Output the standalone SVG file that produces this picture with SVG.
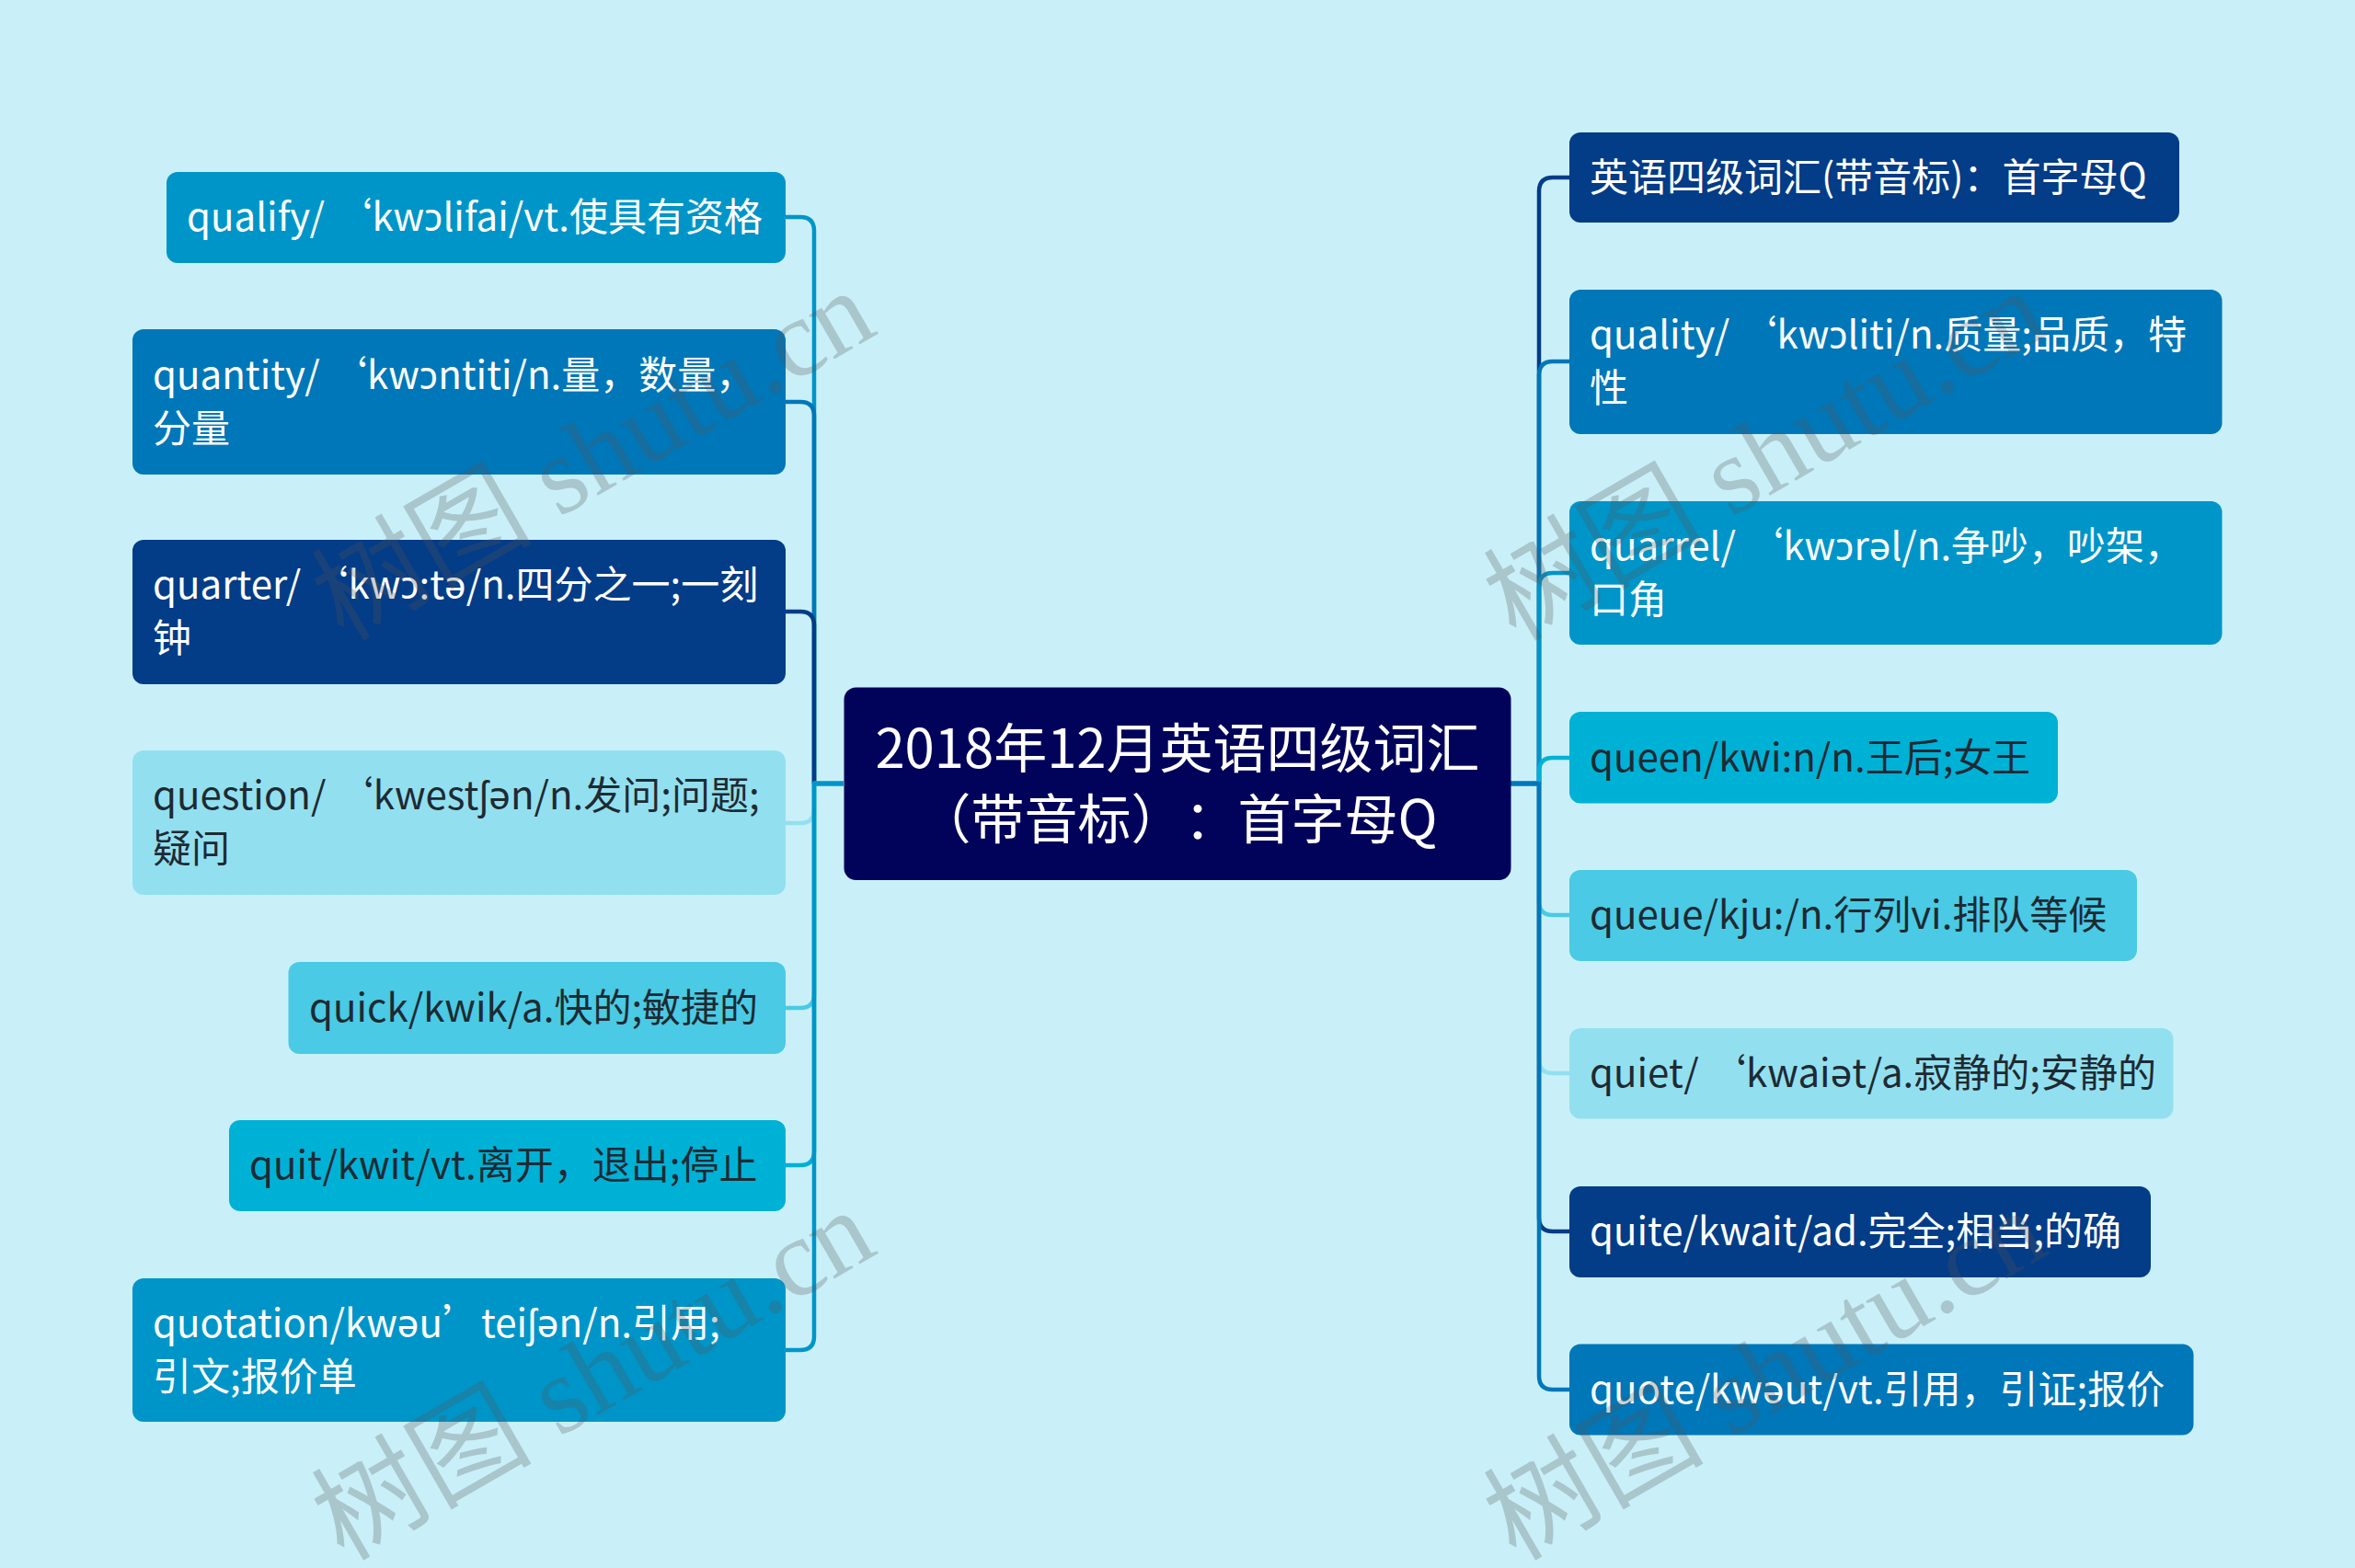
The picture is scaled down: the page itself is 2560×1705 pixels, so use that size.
<svg xmlns="http://www.w3.org/2000/svg" width="2560" height="1705" viewBox="0 0 2560 1705">
<style>
.t{font-family:"Noto Sans CJK SC","Noto Sans",sans-serif;font-size:42px;text-spacing-trim:space-all}
.w{fill:#ffffff}
.d{fill:#1e2a33}
.c{fill:none;stroke-width:4.5;stroke-linejoin:round}
.wm{font-family:"Liberation Serif","Noto Sans CJK SC",serif;font-size:120px;fill:#555555;fill-opacity:0.27}
</style>
<rect width="2560" height="1705" fill="#c9f0f8"/>
<g id="connectors">
<path class="c" stroke="#0095c8" d="M917,852 H885 V251 Q885,236 870,236 H854"/>
<path class="c" stroke="#0077b8" d="M917,852 H885 V452 Q885,437 870,437 H854"/>
<path class="c" stroke="#033c87" d="M917,852 H885 V680 Q885,665 870,665 H854"/>
<path class="c" stroke="#92e0ef" d="M917,852 H885 V880 Q885,895 870,895 H854"/>
<path class="c" stroke="#4acae4" d="M917,852 H885 V1081 Q885,1096 870,1096 H854"/>
<path class="c" stroke="#00b1d6" d="M917,852 H885 V1252 Q885,1267 870,1267 H854"/>
<path class="c" stroke="#0095c8" d="M917,852 H885 V1453 Q885,1468 870,1468 H854"/>
<path class="c" stroke="#033c87" d="M1642,852 H1673 V208 Q1673,193 1688,193 H1706"/>
<path class="c" stroke="#0077b8" d="M1642,852 H1673 V408 Q1673,393 1688,393 H1706"/>
<path class="c" stroke="#0095c8" d="M1642,852 H1673 V638 Q1673,623 1688,623 H1706"/>
<path class="c" stroke="#00b1d6" d="M1642,852 H1673 V839 Q1673,824 1688,824 H1706"/>
<path class="c" stroke="#4acae4" d="M1642,852 H1673 V980 Q1673,995 1688,995 H1706"/>
<path class="c" stroke="#92e0ef" d="M1642,852 H1673 V1152 Q1673,1167 1688,1167 H1706"/>
<path class="c" stroke="#033c87" d="M1642,852 H1673 V1324 Q1673,1339 1688,1339 H1706"/>
<path class="c" stroke="#0077b8" d="M1642,852 H1673 V1496 Q1673,1511 1688,1511 H1706"/>
</g>
<g id="center">
<rect x="917.5" y="747.5" width="725" height="209.5" rx="13" fill="#01035a"/>
<text class="t w" x="1280" y="835" text-anchor="middle" style="font-size:58px">2018年12月英语四级词汇</text>
<text class="t w" x="1280" y="912" text-anchor="middle" style="font-size:58px">（带音标）：首字母Q</text>
</g>
<g id="n-qualify">
<rect x="181" y="187" width="673" height="99" rx="12" fill="#0095c8"/>
<text class="t w" x="203" y="251">qualify/ ‘kwɔlifai/vt.使具有资格</text>
</g>
<g id="n-quantity">
<rect x="144" y="358" width="710" height="158" rx="12" fill="#0077b8"/>
<text class="t w" x="166" y="423">quantity/ ‘kwɔntiti/n.量，数量，</text>
<text class="t w" x="166" y="481">分量</text>
</g>
<g id="n-quarter">
<rect x="144" y="587" width="710" height="157" rx="12" fill="#033c87"/>
<text class="t w" x="166" y="651">quarter/ ‘kwɔ:tə/n.四分之一;一刻</text>
<text class="t w" x="166" y="709">钟</text>
</g>
<g id="n-question">
<rect x="144" y="816" width="710" height="157" rx="12" fill="#92e0ef"/>
<text class="t d" x="166" y="880">question/ ‘kwestʃən/n.发问;问题;</text>
<text class="t d" x="166" y="938">疑问</text>
</g>
<g id="n-quick">
<rect x="313.5" y="1046" width="540.5" height="100" rx="12" fill="#4acae4"/>
<text class="t d" x="336" y="1111">quick/kwik/a.快的;敏捷的</text>
</g>
<g id="n-quit">
<rect x="249" y="1218" width="605" height="99" rx="12" fill="#00b1d6"/>
<text class="t d" x="271" y="1282">quit/kwit/vt.离开，退出;停止</text>
</g>
<g id="n-quotation">
<rect x="144" y="1390" width="710" height="156" rx="12" fill="#0095c8"/>
<text class="t w" x="166" y="1454">quotation/kwəu’teiʃən/n.引用;</text>
<text class="t w" x="166" y="1512">引文;报价单</text>
</g>
<g id="n-title">
<rect x="1706" y="144" width="663" height="98" rx="12" fill="#033c87"/>
<text class="t w" x="1728" y="208">英语四级词汇(带音标)：首字母Q</text>
</g>
<g id="n-quality">
<rect x="1706" y="315" width="709.5" height="157" rx="12" fill="#0077b8"/>
<text class="t w" x="1728" y="379">quality/ ‘kwɔliti/n.质量;品质，特</text>
<text class="t w" x="1728" y="437">性</text>
</g>
<g id="n-quarrel">
<rect x="1706" y="545" width="709.5" height="156" rx="12" fill="#0095c8"/>
<text class="t w" x="1728" y="609">quarrel/ ‘kwɔrəl/n.争吵，吵架，</text>
<text class="t w" x="1728" y="667">口角</text>
</g>
<g id="n-queen">
<rect x="1706" y="774" width="531" height="99.5" rx="12" fill="#00b1d6"/>
<text class="t d" x="1728" y="839">queen/kwi:n/n.王后;女王</text>
</g>
<g id="n-queue">
<rect x="1706" y="946" width="617" height="99" rx="12" fill="#4acae4"/>
<text class="t d" x="1728" y="1010">queue/kju:/n.行列vi.排队等候</text>
</g>
<g id="n-quiet">
<rect x="1706" y="1118" width="656.5" height="98.5" rx="12" fill="#92e0ef"/>
<text class="t d" x="1728" y="1182">quiet/ ‘kwaiət/a.寂静的;安静的</text>
</g>
<g id="n-quite">
<rect x="1706" y="1290" width="632" height="99" rx="12" fill="#033c87"/>
<text class="t w" x="1728" y="1354">quite/kwait/ad.完全;相当;的确</text>
</g>
<g id="n-quote">
<rect x="1706" y="1461.5" width="678.5" height="99" rx="12" fill="#0077b8"/>
<text class="t w" x="1728" y="1526">quote/kwəut/vt.引用，引证;报价</text>
</g>
<g id="watermarks">
<text class="wm" text-anchor="middle" transform="translate(665,530) rotate(-30)">树图 shutu.cn</text>
<text class="wm" text-anchor="middle" transform="translate(1939,530) rotate(-30)">树图 shutu.cn</text>
<text class="wm" text-anchor="middle" transform="translate(665,1530) rotate(-30)">树图 shutu.cn</text>
<text class="wm" text-anchor="middle" transform="translate(1939,1530) rotate(-30)">树图 shutu.cn</text>
</g>
</svg>
